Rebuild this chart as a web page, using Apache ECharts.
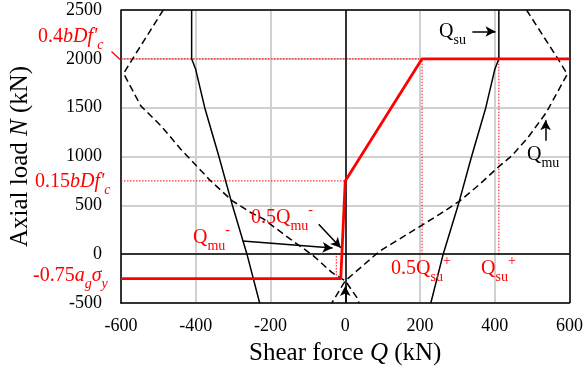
<!DOCTYPE html>
<html>
<head>
<meta charset="UTF-8">
<title>Axial load - shear force</title>
<style>
html,body{margin:0;padding:0;background:#fff;}
#main{width:586px;height:372px;}
</style>
</head>
<body>
<div id="main"></div>
<script src="https://cdn.jsdelivr.net/npm/echarts@6/dist/echarts.min.js"></script>
<script>
// shear strength Qsu (solid black), [Q, N]
var qsuNeg = [[-229,-500],[-263,0],[-302,500],[-338,1000],[-376,1500],[-400,1890],[-411,2000],[-411,2500]];
var qsuPos = [[229,-500],[262,0],[302,500],[338,1000],[376,1500],[400,1890],[411,2000],[411,2500]];
// flexural strength Qmu (dashed black)
var qmuNeg = [[-487,2500],[-569,2000],[-593,1850],[-547,1518],[-493,1314],[-440,1075],[-360,750],[-302,546],[-253,427],[-218,358],[-147,154],[-85,-17],[-36,-187],[0,-273],[31,-443],[37,-500]];
var qmuPos = [[485,2500],[569,2000],[594,1843],[538,1451],[489,1195],[445,1006],[413,904],[360,717],[307,546],[253,410],[173,221],[93,34],[0,-273],[-27,-443],[-36,-500]];
// red design envelope
var design = [[-600,-250],[-12,-250],[0,750],[205.5,2000],[600,2000]];
// red dotted guides: [[Q1,N1],[Q2,N2]]
var guides = [
  [[-600,2000],[205.5,2000]],
  [[-600,750],[0,750]],
  [[205.5,0],[205.5,2000]],
  [[411,0],[411,2000]],
  [[-24,-250],[-24,0]]
];
// black arrows: [from, to]
var arrows = [
  [[340,2280],[402,2280]],
  [[536,1160],[536,1370]],
  [[-275,136],[-34,62]],
  [[-71,307],[-12,66]],
  [[0,-500],[0,-325]]
];
var xTicks = {min:-600, max:600, step:200};
var yTicks = {min:-500, max:2500, step:500};

var F = 'Liberation Serif';
var chart = echarts.init(document.getElementById('main'));

function rich(color){
  return {
    n:{fontFamily:F,fontSize:20,fill:color,lineHeight:30},
    i:{fontFamily:F,fontSize:20,fontStyle:'italic',fill:color,lineHeight:30},
    sb:{fontFamily:F,fontSize:14,fill:color,lineHeight:14,verticalAlign:'bottom'},
    si:{fontFamily:F,fontSize:14,fontStyle:'italic',fill:color,lineHeight:14,verticalAlign:'bottom'},
    sp:{fontFamily:F,fontSize:14,fill:color,lineHeight:14,verticalAlign:'top'}
  };
}
function label(x, y, text, color){
  return {type:'text', x:x, y:y, z:100,
    style:{text:text, fill:color, rich:rich(color), align:'left', verticalAlign:'middle'}};
}

var red = '#ff0000';
var curveStyle = {color:'#000', width:1.5};
var plain = function(v){ return String(v); };
var blackAxis = {show:true, onZero:false, lineStyle:{color:'#000', width:1.5}};
var gridLine = {show:true, lineStyle:{color:'#d0d0d0', width:2, type:'solid', opacity:1}};

var series = [];
guides.forEach(function(g){
  series.push({type:'line', data:g, showSymbol:false, silent:true, z:1,
    lineStyle:{color:red, width:1, type:[1.5,1.5]}});
});
series.push(
  {type:'line', data:[], z:2,
    markLine:{silent:true, symbol:'none', label:{show:false},
      lineStyle:{color:'#000', width:1.5, type:'solid'},
      data:[{xAxis:0},{yAxis:0},{xAxis:xTicks.max},{yAxis:yTicks.max}]}},
  {type:'line', data:qsuNeg, showSymbol:false, lineStyle:curveStyle, z:3},
  {type:'line', data:qsuPos, showSymbol:false, lineStyle:curveStyle, z:3},
  {type:'line', data:qmuNeg, showSymbol:false, lineStyle:{color:'#000', width:1.5, type:[7,4]}, z:3},
  {type:'line', data:qmuPos, showSymbol:false, lineStyle:{color:'#000', width:1.5, type:[7,4]}, z:3},
  {type:'line', data:design, showSymbol:false, lineStyle:{color:red, width:2.8}, z:5},
  {type:'line', data:[], z:6,
    markLine:{silent:true, symbol:['none','arrow'], symbolSize:[8,10], label:{show:false},
      lineStyle:{color:'#000', width:1.5, type:'solid'},
      data:arrows.map(function(a){ return [{coord:a[0]},{coord:a[1]}]; })}}
);

chart.setOption({
  animation:false,
  backgroundColor:'#fff',
  grid:{left:120, right:16, top:10, bottom:69},
  xAxis:{
    type:'value', min:xTicks.min, max:xTicks.max, interval:xTicks.step,
    axisLine:blackAxis, axisTick:{show:false}, splitLine:gridLine,
    axisLabel:{fontFamily:F, fontSize:18, color:'#000', margin:14, formatter:plain},
    name:'Shear force {i|Q} (kN)', nameLocation:'middle', nameGap:38,
    nameTextStyle:{fontFamily:F, fontSize:25, color:'#000',
      rich:{i:{fontFamily:F, fontSize:25, fontStyle:'italic', color:'#000'}}}
  },
  yAxis:{
    type:'value', min:yTicks.min, max:yTicks.max, interval:yTicks.step,
    axisLine:blackAxis, axisTick:{show:false}, splitLine:gridLine,
    axisLabel:{fontFamily:F, fontSize:18, color:'#000', margin:19, formatter:plain},
    name:'Axial load {i|N} (kN)', nameLocation:'middle', nameGap:88,
    nameTextStyle:{fontFamily:F, fontSize:25, color:'#000',
      rich:{i:{fontFamily:F, fontSize:25, fontStyle:'italic', color:'#000'}}}
  },
  series:series,
  graphic:[
    label(38, 37, "{n|0.4}{i|bDf'}{si|c}", red),
    label(35, 182, "{n|0.15}{i|bDf'}{si|c}", red),
    label(33, 276, "{n|-0.75}{i|a}{si|g}{i|σ}{si|y}", red),
    label(251, 218, "{n|0.5Q}{sb|mu}{sp|-}", red),
    label(193, 238, "{n|Q}{sb|mu}{sp|-}", red),
    label(391, 269, "{n|0.5Q}{sb|su}{sp|+}", red),
    label(481, 269, "{n|Q}{sb|su}{sp|+}", red),
    label(439, 32, "{n|Q}{sb|su}", '#000'),
    label(527, 155, "{n|Q}{sb|mu}", '#000'),
    {type:'line', z:100, shape:{x1:111.5, y1:51.5, x2:120, y2:59.5}, style:{stroke:red, lineWidth:1.2}}
  ]
});
</script>
</body>
</html>
